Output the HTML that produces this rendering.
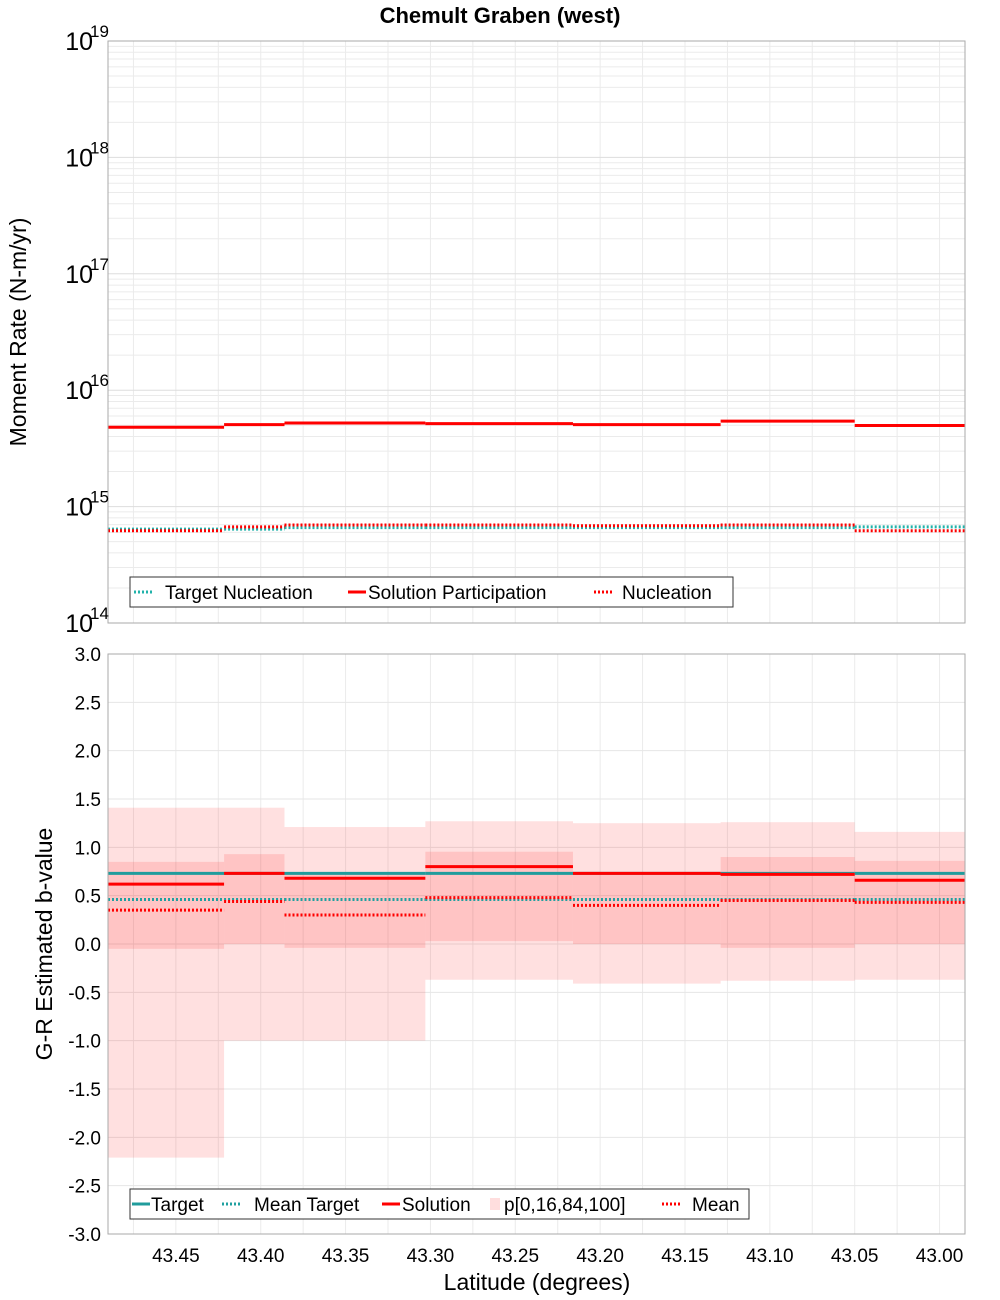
<!DOCTYPE html>
<html><head><meta charset="utf-8"><style>
html,body{margin:0;padding:0;background:#fff;}
svg{display:block;font-family:"Liberation Sans","DejaVu Sans",sans-serif;}
</style></head><body>
<svg id="chart" width="1000" height="1300" viewBox="0 0 1000 1300" xmlns="http://www.w3.org/2000/svg">
<text x="500" y="23" text-anchor="middle" font-size="22" font-weight="bold">Chemult Graben (west)</text>
<g id="topPanel"></g>
<g id="botPanel"></g>
</svg>
<script>
// ---- data ----
const binEdges = [43.490, 43.4216, 43.386, 43.303, 43.216, 43.129, 43.050, 42.985];
const targetNucleation = [6.4e14, 6.4e14, 6.6e14, 6.6e14, 6.6e14, 6.6e14, 6.7e14];
const solutionParticipation = [4.8e15, 5.06e15, 5.23e15, 5.16e15, 5.06e15, 5.43e15, 4.97e15];
const nucleation = [6.2e14, 6.7e14, 6.95e14, 6.95e14, 6.85e14, 6.95e14, 6.2e14];
const bTarget = [0.73, 0.73, 0.73, 0.73, 0.73, 0.73, 0.73];
const bMeanTarget = [0.46, 0.46, 0.46, 0.46, 0.46, 0.46, 0.46];
const bSolution = [0.62, 0.73, 0.68, 0.80, 0.73, 0.72, 0.66];
const bMean = [0.35, 0.44, 0.30, 0.48, 0.40, 0.45, 0.43];
const bP0 = [-2.21, -1.0, -1.0, -0.37, -0.41, -0.38, -0.37];
const bP16 = [-0.05, 0.0, -0.04, 0.03, 0.0, -0.04, 0.0];
const bP84 = [0.85, 0.93, 0.73, 0.955, 0.72, 0.90, 0.86];
const bP100 = [1.41, 1.41, 1.21, 1.27, 1.25, 1.26, 1.16];
const xTicks = [43.45, 43.40, 43.35, 43.30, 43.25, 43.20, 43.15, 43.10, 43.05, 43.00];
const yTopDecades = [14, 15, 16, 17, 18, 19];
const yBotTicks = [-3.0,-2.5,-2.0,-1.5,-1.0,-0.5,0.0,0.5,1.0,1.5,2.0,2.5,3.0];

// ---- axes ----
const L=108,R=965, T1=41,B1=623, T2=654,B2=1234;
const xMin=43.490, xMax=42.985;
const X = v => L + (v - xMin)/(xMax - xMin)*(R-L);
const Yt = v => B1 - (Math.log10(v)-14)/5*(B1-T1);
const Yb = v => B2 - (v+3)/6*(B2-T2);
const NS="http://www.w3.org/2000/svg";
function mk(tag, parent, attrs, text){
  const e=document.createElementNS(NS,tag);
  for(const k in attrs) e.setAttribute(k, attrs[k]);
  if(text!==undefined) e.textContent=text;
  parent.appendChild(e); return e;
}
const topG=document.getElementById('topPanel'), botG=document.getElementById('botPanel');

function frame(g, T, B){
  const gg=mk('g',g,{});
  
  
  for(let v=43.475; v>42.98; v-=0.025){
    const x=X(v);
    if(x>L && x<R) mk('line',gg,{x1:x,x2:x,y1:T,y2:B,stroke:'#ebebeb','stroke-width':1});
  }
  return gg;
}
const gt=frame(topG,T1,B1);
for(let d=14; d<19; d++){
  for(let m=1;m<10;m++){
    const y=Yt(m*Math.pow(10,d));
    mk('line',gt,{x1:L,x2:R,y1:y,y2:y,stroke:m==1?'#dddddd':'#ebebeb','stroke-width':1});
  }
}
const gb=frame(botG,T2,B2);
yBotTicks.forEach(v=>{const y=Yb(v);mk('line',gb,{x1:L,x2:R,y1:y,y2:y,stroke:'#e6e6e6','stroke-width':1});});

function steps(g, arr, yf, color, width, dash, name){
  const gg=mk('g',g,{});
  
  
  arr.forEach((v,i)=>{
    const seg=mk('line',gg,{x1:X(binEdges[i]),x2:X(binEdges[i+1]),y1:yf(v),y2:yf(v),stroke:color,'stroke-width':width});
    if(dash) seg.setAttribute('stroke-dasharray',dash);
    
    
  });
}
steps(topG,targetNucleation,Yt,'#20b2aa',3,'2,2','target-nucleation');
steps(topG,nucleation,Yt,'#ff0000',3,'2,2','nucleation');
steps(topG,solutionParticipation,Yt,'#ff0000',3,null,'solution-participation');

const bands=mk('g',botG,{});


bP0.forEach((v,i)=>{
  const x1=X(binEdges[i]),x2=X(binEdges[i+1]);
  const r=mk('rect',bands,{x:x1,width:x2-x1,y:Yb(bP100[i]),height:Yb(v)-Yb(bP100[i]),fill:'#ff0000','fill-opacity':0.12});
  
  
  const r2=mk('rect',bands,{x:x1,width:x2-x1,y:Yb(bP84[i]),height:Yb(bP16[i])-Yb(bP84[i]),fill:'#ff0000','fill-opacity':0.12});
  
  
});
steps(botG,bMeanTarget,Yb,'#20a0a0',3,'2,2','mean-target');
steps(botG,bMean,Yb,'#ff0000',3,'2,2','mean');
steps(botG,bTarget,Yb,'#209c9c',3,null,'target');
steps(botG,bSolution,Yb,'#ff0000',3,null,'solution');

[[T1,B1,topG],[T2,B2,botG]].forEach(([T,B,g])=>{
  const f=mk('rect',g,{x:L,y:T,width:R-L,height:B-T,fill:'none',stroke:'#aaaaaa','stroke-width':1});
  
  
});

yTopDecades.forEach(d=>{
  const y=Yt(Math.pow(10,d));
  const t=mk('text',topG,{x:93,y:y+9,'text-anchor':'end','font-size':25},'10');
  
  
  const s=mk('text',topG,{x:90,y:y-4,'font-size':17},String(d));
  
  
});
yBotTicks.forEach(v=>{
  const t=mk('text',botG,{x:101,y:Yb(v)+7,'text-anchor':'end','font-size':19},v.toFixed(1));
  
  
});
xTicks.forEach(v=>{
  const t=mk('text',botG,{x:X(v),y:1262,'text-anchor':'middle','font-size':19},v.toFixed(2));
  
  
});
let a=mk('text',topG,{x:0,y:0,'font-size':23,'text-anchor':'middle',transform:'translate(26,332) rotate(-90)'},'Moment Rate (N-m/yr)');

a=mk('text',botG,{x:0,y:0,'font-size':23,'text-anchor':'middle',transform:'translate(52,944) rotate(-90)'},'G-R Estimated b-value');

a=mk('text',botG,{x:537,y:1290,'font-size':23,'text-anchor':'middle'},'Latitude (degrees)');


function legend(g,x,y,w,items){
  const lg=mk('g',g,{});
  
  
  mk('rect',lg,{x:x,y:y,width:w,height:30,fill:'#fff',stroke:'#333','stroke-width':1});
  items.forEach(it=>{
    const e=mk('g',lg,{});
    
    
    const cy=y+15;
    if(it.band){
      mk('rect',e,{x:it.x+2,y:cy-6,width:10,height:12,fill:'#ffdede'});
    } else {
      const ln=mk('line',e,{x1:it.x,x2:it.x+18,y1:cy,y2:cy,stroke:it.c,'stroke-width':3});
      if(it.d) ln.setAttribute('stroke-dasharray','2,2');
    }
    mk('text',e,{x:it.tx,y:cy+7,'font-size':19},it.t);
  });
}
legend(topG,130,577,603,[
  {x:134,tx:165,c:'#20b2aa',d:true,t:'Target Nucleation'},
  {x:348,tx:368,c:'#ff0000',t:'Solution Participation'},
  {x:594,tx:622,c:'#ff0000',d:true,t:'Nucleation'}]);
legend(botG,130,1189,619,[
  {x:132,tx:151,c:'#209c9c',t:'Target'},
  {x:222,tx:254,c:'#20a0a0',d:true,t:'Mean Target'},
  {x:382,tx:402,c:'#ff0000',t:'Solution'},
  {x:488,tx:504,band:true,t:'p[0,16,84,100]'},
  {x:662,tx:692,c:'#ff0000',d:true,t:'Mean'}]);
</script>
</body></html>
